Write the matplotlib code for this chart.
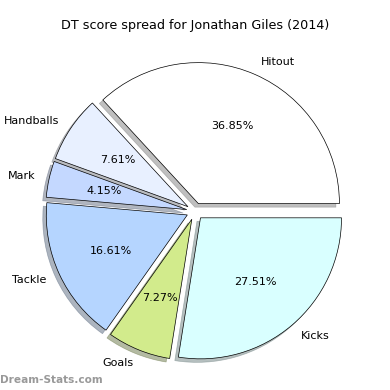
import matplotlib
matplotlib.use("Agg")
import matplotlib.pyplot as plt

labels = ["Hitout", "Handballs", "Mark", "Tackle", "Goals", "Kicks"]
values = [36.85, 7.61, 4.15, 16.61, 7.27, 27.51]
colors = ["#ffffff", "#e8f0ff", "#c4d8ff", "#b5d5ff", "#d2eb8c", "#d9ffff"]
explode = [0.06] * len(values)

fig = plt.figure(figsize=(3.9, 3.9), dpi=100)
ax = fig.add_axes([0.048, 0.006, 0.904, 0.904])
wedges, texts, autotexts = ax.pie(values, labels=labels, colors=colors, explode=explode,
                                  autopct="%.2f%%", shadow={"ox": -0.018, "oy": -0.018, "shade": 0.5},
                                  startangle=0,
                                  wedgeprops=dict(edgecolor="black", linewidth=0.5),
                                  textprops=dict(fontsize=8))
ax.set_aspect("equal")
ax.set_xlim(-1.25, 1.25)
ax.set_ylim(-1.25, 1.25)
fig.text(0.5, 0.934, "DT score spread for Jonathan Giles (2014)", ha="center", va="center", fontsize=9.2)
fig.text(0.0, 0.025, "Dream-Stats.com", ha="left", va="center", fontsize=7.6,
         color="#999999", fontweight="bold")
fig.savefig("out.png", dpi=100)
